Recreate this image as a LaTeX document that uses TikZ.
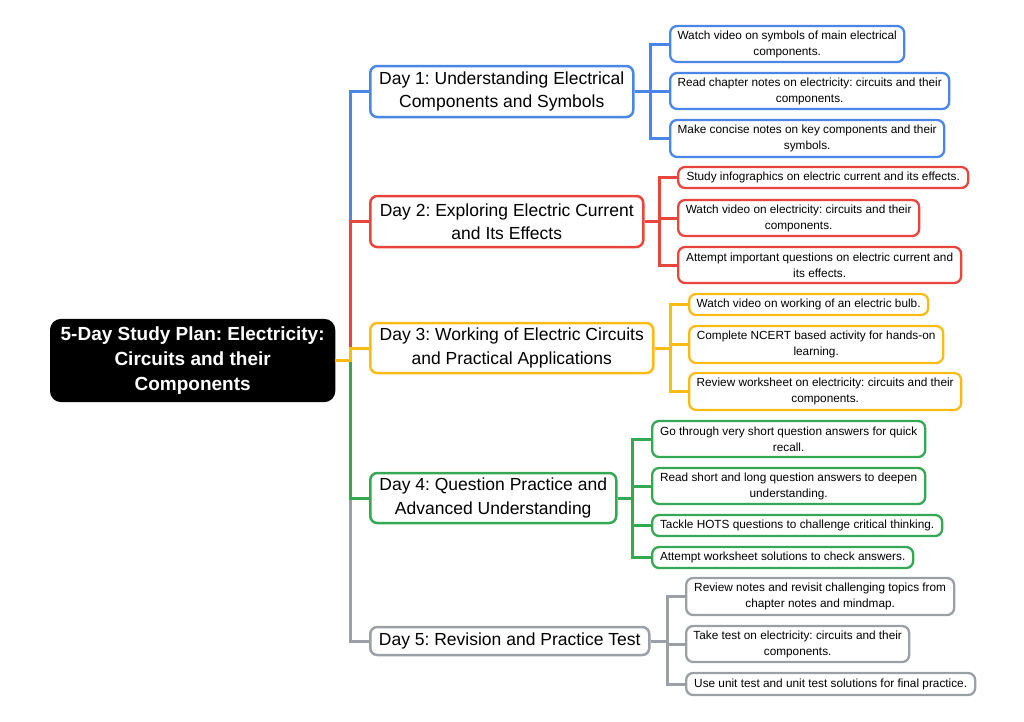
\documentclass[tikz,border=0pt]{standalone}
\usepackage{fontspec}
\setmainfont{Liberation Sans}
\frenchspacing
\definecolor{cblue}{HTML}{4A86E8}
\definecolor{cred}{HTML}{E8453C}
\definecolor{cyellow}{HTML}{F9BC15}
\definecolor{cgreen}{HTML}{34A853}
\definecolor{cgray}{HTML}{9AA0A6}
\begin{document}
\begin{tikzpicture}[x=1pt,y=-1pt,
  box/.style={draw, line width=2.3pt, rounded corners=7pt, fill=white, align=center, inner sep=0pt, anchor=west},
  leaf/.style={box, font=\fontsize{11.8}{16}\selectfont},
  day/.style={box, line width=2.5pt, font=\fontsize{17.5}{23.5}\selectfont},
  rootbox/.style={box, fill=black, draw=black, text=white, rounded corners=10pt, font=\bfseries\fontsize{19}{25}\selectfont},
  link/.style={line width=3pt},
]
\useasboundingbox (0,0) rectangle (1024,721);
\fill[white] (0,0) rectangle (1024,721);

% root
\node[rootbox, minimum width=283pt, minimum height=81pt] (root) at (50,360.5) {5-Day Study Plan: Electricity:\\Circuits and their\\Components};

% days
\node[day, draw=cblue, minimum width=263pt, minimum height=51pt] (d1) at (369,91.5) {Day 1: Understanding Electrical\\Components and Symbols};
\node[day, draw=cred, minimum width=273pt, minimum height=51pt] (d2) at (369,221.5) {Day 2: Exploring Electric Current\\and Its Effects};
\node[day, draw=cyellow, minimum width=283pt, minimum height=50pt] (d3) at (369,348) {Day 3: Working of Electric Circuits\\and Practical Applications};
\node[day, draw=cgreen, minimum width=246pt, minimum height=50pt] (d4) at (369,498) {Day 4: Question Practice and\\Advanced Understanding};
\node[day, draw=cgray, minimum width=279pt, minimum height=28pt] (d5) at (369,641) {Day 5: Revision and Practice Test};

% leaves day 1
\node[leaf, draw=cblue, minimum width=234pt, minimum height=36pt] (l11) at (669,44) {Watch video on symbols of main electrical\\components.};
\node[leaf, draw=cblue, minimum width=279pt, minimum height=36pt] (l12) at (669,91) {Read chapter notes on electricity: circuits and their\\components.};
\node[leaf, draw=cblue, minimum width=274pt, minimum height=37pt] (l13) at (669,138.5) {Make concise notes on key components and their\\symbols.};
% leaves day 2
\node[leaf, draw=cred, minimum width=290pt, minimum height=21pt] (l21) at (677,177.5) {Study infographics on electric current and its effects.};
\node[leaf, draw=cred, minimum width=241pt, minimum height=36pt] (l22) at (677,218) {Watch video on electricity: circuits and their\\components.};
\node[leaf, draw=cred, minimum width=283pt, minimum height=36pt] (l23) at (677,265) {Attempt important questions on electric current and\\its effects.};
% leaves day 3
\node[leaf, draw=cyellow, minimum width=239pt, minimum height=21pt] (l31) at (688,304.5) {Watch video on working of an electric bulb.};
\node[leaf, draw=cyellow, minimum width=254pt, minimum height=37pt] (l32) at (688,344.5) {Complete NCERT based activity for hands-on\\learning.};
\node[leaf, draw=cyellow, minimum width=272pt, minimum height=37pt] (l33) at (688,391.5) {Review worksheet on electricity: circuits and their\\components.};
% leaves day 4
\node[leaf, draw=cgreen, minimum width=273pt, minimum height=36pt] (l41) at (651,439) {Go through very short question answers for quick\\recall.};
\node[leaf, draw=cgreen, minimum width=273pt, minimum height=36pt] (l42) at (651,486) {Read short and long question answers to deepen\\understanding.};
\node[leaf, draw=cgreen, minimum width=290pt, minimum height=21pt] (l43) at (651,525.5) {Tackle HOTS questions to challenge critical thinking.};
\node[leaf, draw=cgreen, minimum width=261pt, minimum height=21pt] (l44) at (651,557.5) {Attempt worksheet solutions to check answers.};
% leaves day 5
\node[leaf, draw=cgray, minimum width=268pt, minimum height=37pt] (l51) at (685,596.5) {Review notes and revisit challenging topics from\\chapter notes and mindmap.};
\node[leaf, draw=cgray, minimum width=223pt, minimum height=36pt] (l52) at (685,644) {Take test on electricity: circuits and their\\components.};
\node[leaf, draw=cgray, minimum width=289pt, minimum height=22pt] (l53) at (685,684) {Use unit test and unit test solutions for final practice.};

% trunk coordinates
\coordinate (T) at (350,0);
\coordinate (t1) at (650,0);
\coordinate (t2) at (659,0);
\coordinate (t3) at (670,0);
\coordinate (t4) at (632,0);
\coordinate (t5) at (667,0);

% root to days
\draw[link, cgray] (root.east) -- (root.east -| T) |- (d5.west);
\draw[link, cblue] (root.east) -- (root.east -| T) |- (d1.west);
\draw[link, cgreen] (root.east) -- (root.east -| T) |- (d4.west);
\draw[link, cred] (root.east) -- (root.east -| T) |- (d2.west);
\draw[link, cyellow] (root.east) -- (root.east -| T) |- (d3.west);

% days to leaves
\foreach \l in {l11,l12,l13} \draw[link, cblue] (d1.east) -- (d1.east -| t1) |- (\l.west);
\foreach \l in {l21,l22,l23} \draw[link, cred] (d2.east) -- (d2.east -| t2) |- (\l.west);
\foreach \l in {l31,l32,l33} \draw[link, cyellow] (d3.east) -- (d3.east -| t3) |- (\l.west);
\foreach \l in {l41,l42,l43,l44} \draw[link, cgreen] (d4.east) -- (d4.east -| t4) |- (\l.west);
\foreach \l in {l51,l52,l53} \draw[link, cgray] (d5.east) -- (d5.east -| t5) |- (\l.west);
\end{tikzpicture}
\end{document}
